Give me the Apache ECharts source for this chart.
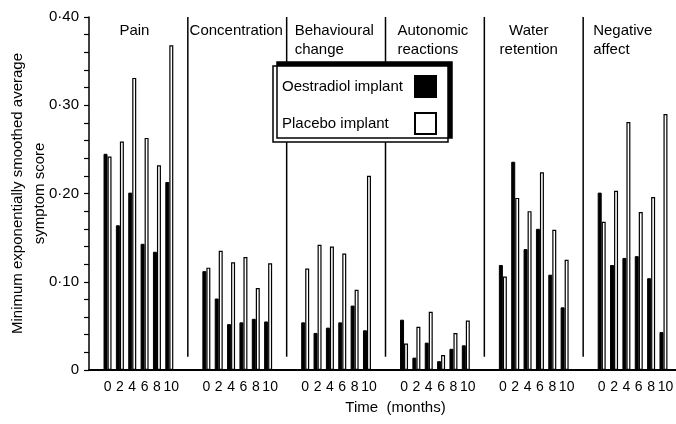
<!DOCTYPE html>
<html>
<head>
<meta charset="utf-8">
<script src="https://cdn.jsdelivr.net/npm/echarts@6/dist/echarts.min.js"></script>
<style>
html,body{margin:0;padding:0;background:#fff;}
#chart{width:676px;height:424px;}
</style>
</head>
<body>
<div id="chart"></div>
<script>
// ---- data ----
const groups = ['Pain', 'Concentration', 'Behavioural\nchange', 'Autonomic\nreactions', 'Water\nretention', 'Negative\naffect'];
const times = ['0', '2', '4', '6', '8', '10'];
const yTicks = [0, 0.1, 0.2, 0.3, 0.4];
const painO = [0.245, 0.164, 0.201, 0.143, 0.134, 0.213];
const painP = [0.242, 0.259, 0.331, 0.263, 0.232, 0.368];
const concO = [0.112, 0.081, 0.052, 0.054, 0.058, 0.055];
const concP = [0.116, 0.135, 0.122, 0.128, 0.093, 0.121];
const behavO = [0.054, 0.042, 0.048, 0.054, 0.073, 0.045];
const behavP = [0.115, 0.142, 0.140, 0.132, 0.091, 0.220];
const autoO = [0.057, 0.014, 0.031, 0.010, 0.024, 0.028];
const autoP = [0.030, 0.049, 0.066, 0.017, 0.042, 0.056];
const waterO = [0.119, 0.236, 0.137, 0.160, 0.108, 0.071];
const waterP = [0.106, 0.195, 0.180, 0.224, 0.159, 0.125];
const negO = [0.201, 0.119, 0.127, 0.129, 0.104, 0.043];
const negP = [0.168, 0.203, 0.281, 0.179, 0.196, 0.290];

const oestradiol = [painO, concO, behavO, autoO, waterO, negO];
const placebo = [painP, concP, behavP, autoP, waterP, negP];

// ---- build category axis: spacer, 6 time points, spacer per group ----
const SLOTS = 8;
const cats = [];
const oData = [];
const pData = [];
groups.forEach((g, gi) => {
  cats.push({value: 's' + gi + 'a', textStyle: {color: 'transparent'}});
  oData.push('-'); pData.push('-');
  times.forEach((t, ti) => {
    cats.push(t === '10' ? {value: t, textStyle: {padding: [0, 0, 0, 4]}} : t);
    oData.push(oestradiol[gi][ti]);
    pData.push(placebo[gi][ti]);
  });
  cats.push({value: 's' + gi + 'b', textStyle: {color: 'transparent'}});
  oData.push('-'); pData.push('-');
});

const FONT = '"Liberation Sans", Arial, sans-serif';
const titleAlign = ['center', 'center', 'left', 'left', 'center', 'left'];
const titleOffset = [-4, -1, 8, 12, -5, 10];

const chart = echarts.init(document.getElementById('chart'));
chart.setOption({
  backgroundColor: '#fff',
  animation: false,
  textStyle: {fontFamily: FONT, color: '#000'},
  grid: {left: 89, right: -6, top: 17, bottom: 54, containLabel: false, outerBoundsMode: 'none'},
  legend: {
    data: ['Oestradiol implant', 'Placebo implant'],
    orient: 'vertical',
    left: 273, top: 66,
    align: 'right',
    itemWidth: 21, itemHeight: 21, itemGap: 14,
    padding: [9, 11, 7, 9],
    backgroundColor: '#fff',
    borderColor: '#000', borderWidth: 1.5,
    shadowColor: '#000', shadowBlur: 0, shadowOffsetX: 4, shadowOffsetY: -4,
    formatter: n => '{a|' + n + '}',
    textStyle: {
      fontFamily: FONT, fontSize: 15, color: '#000',
      rich: {a: {width: 128, align: 'left', fontSize: 15, fontFamily: FONT, color: '#000'}}
    },
    icon: 'rect'
  },
  xAxis: {
    type: 'category',
    data: cats,
    boundaryGap: true,
    axisLine: {lineStyle: {color: '#000', width: 2}},
    axisTick: {show: false},
    splitLine: {show: false},
    axisLabel: {interval: 0, fontSize: 14, color: '#000', margin: 10, fontFamily: FONT},
    name: 'Time  (months)',
    nameLocation: 'middle',
    nameGap: 30,
    nameMoveOverlap: false,
    nameTextStyle: {fontSize: 15, color: '#000', fontFamily: FONT, padding: [0, 0, 0, 20]}
  },
  yAxis: {
    type: 'value',
    min: 0, max: 0.4, interval: 0.1,
    axisLine: {show: true, lineStyle: {color: '#000', width: 1.5}},
    axisTick: {show: true, length: 5, lineStyle: {color: '#000', width: 1.2}},
    minorTick: {show: true, splitNumber: 5, length: 5, lineStyle: {color: '#000', width: 1.2}},
    splitLine: {show: false},
    axisLabel: {
      fontSize: 15, color: '#000', margin: 10, fontFamily: FONT,
      formatter: v => {
        const t = yTicks.find(k => Math.abs(k - v) < 1e-9);
        if (t === undefined) return '';
        return t === 0 ? '0' : t.toFixed(2).replace('.', '·');
      }
    },
    name: 'Minimum exponentially smoothed average\nsymptom score',
    nameLocation: 'middle',
    nameRotate: 90,
    nameGap: 38,
    nameMoveOverlap: false,
    nameTextStyle: {fontSize: 15, lineHeight: 22, color: '#000', fontFamily: FONT}
  },
  series: [
    {
      name: 'Oestradiol implant',
      type: 'bar',
      data: oData,
      barWidth: 4,
      barGap: '0%',
      itemStyle: {color: '#000', borderColor: '#000', borderWidth: 1}
    },
    {
      name: 'Placebo implant',
      type: 'bar',
      data: pData,
      barWidth: 4,
      barGap: '0%',
      itemStyle: {color: '#fff', borderColor: '#000', borderWidth: 1.2}
    },
    {
      name: 'groups',
      type: 'custom',
      silent: true,
      z: 1,
      data: groups.map((g, gi) => [gi * SLOTS, 0.4]),
      encode: {x: 0, y: 1},
      renderItem: function (params, api) {
        const gi = params.dataIndex;
        const start = api.value(0);
        const top = api.coord([start, 0.4]);
        const bw = api.size([1, 0])[0];
        const left = top[0] - bw / 2;
        const bottomY = api.coord([start, 0.015])[1];
        const children = [];
        if (gi > 0) {
          children.push({
            type: 'line',
            shape: {x1: left, y1: top[1], x2: left, y2: bottomY},
            style: {stroke: '#000', lineWidth: 1.5}
          });
        }
        const tx = titleAlign[gi] === 'center'
          ? left + bw * SLOTS / 2 + titleOffset[gi]
          : left + titleOffset[gi];
        children.push({
          type: 'text',
          style: {
            text: groups[gi],
            x: tx, y: top[1] + 4,
            textAlign: titleAlign[gi],
            textVerticalAlign: 'top',
            fontSize: 15, fontFamily: FONT,
            lineHeight: 19,
            fill: '#000'
          }
        });
        return {type: 'group', children: children};
      }
    }
  ]
});
</script>
</body>
</html>
